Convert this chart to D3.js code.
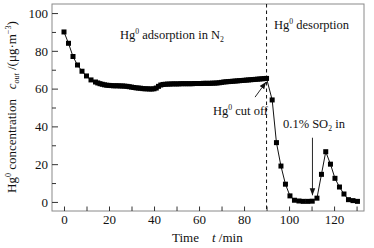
<!DOCTYPE html>
<html>
<head>
<meta charset="utf-8">
<script src="https://cdn.jsdelivr.net/npm/d3@7"></script>
<style>
  body { margin: 0; background: #fff; }
  svg text { font-family: "Liberation Serif", "Times New Roman", serif; fill: #111; }
</style>
</head>
<body>
<div id="chart"><svg></svg></div>
<script>
// data
var adsTime = [0, 2, 4, 6, 8, 10, 12, 14,
  15, 16, 17, 18, 19, 20, 21, 22, 23, 24, 25, 26, 27, 28, 29, 30, 31, 32, 33, 34, 35, 36, 37, 38, 39, 40,
  41, 42, 43, 44, 45, 46, 47, 48, 49, 50, 51, 52, 53, 54, 55, 56, 57, 58, 59, 60, 61, 62, 63, 64, 65,
  66, 67, 68, 69, 70, 71, 72, 73, 74, 75, 76, 77, 78, 79, 80, 81, 82, 83, 84, 85, 86, 87, 88, 89, 90]
var adsConc = [90, 84, 77, 72.5, 69.2, 66.7, 64.6, 63.5,
  63.0, 62.6, 62.3, 62.0, 61.8, 61.7, 61.6, 61.5, 61.5, 61.5, 61.4, 61.4, 61.3, 61.2, 61.0, 60.8, 60.6, 60.4, 60.3, 60.2, 60.0, 59.9, 59.9, 59.8, 59.8, 59.9,
  60.3, 61.2, 61.9, 62.2, 62.3, 62.4, 62.4, 62.5, 62.5, 62.5, 62.5, 62.6, 62.6, 62.6, 62.6, 62.6, 62.6, 62.7, 62.7, 62.7, 62.7, 62.8, 62.8, 62.8, 62.8,
  62.9, 62.9, 63.0, 63.1, 63.3, 63.5, 63.6, 63.7, 63.8, 63.9, 64.0, 64.1, 64.2, 64.3, 64.4, 64.5, 64.6, 64.7, 64.8, 64.9, 65.0, 65.1, 65.2, 65.3, 65.4]
var desTime = [92.5, 94.4, 96.4, 98.4, 100.4, 102.4, 104.4, 106.3, 108.3, 110.3, 112.4, 114.4, 116.3, 118.4, 120.4, 122.4, 124.4, 126.4, 128.4, 130.4]
var desConc = [54, 31.4, 19, 9.4, 3.2, 0.9, 0.5, 0.3, 0.3, 0.4, 2, 14.6, 26.6, 20, 12.5, 7.9, 4.2, 1.2, 0.7, 0.3]

var xTicks = [0, 10, 20, 30, 40, 50, 60, 70, 80, 90, 100, 110, 120, 130]
var yMajor = [0, 20, 40, 60, 80, 100]
var yMinor = [10, 30, 50, 70, 90]
var cutTime = 90
var so2Time = 110.4

var width = 374, height = 248
var plotL = 52, plotR = 364, plotT = 4, plotB = 211

var svg = d3.select("#chart svg").attr("width", width).attr("height", height)

var x = d3.scaleLinear().domain([-5.33, 133.3]).range([plotL, plotR])
var y = d3.scaleLinear().domain([-4.8, 104.8]).range([plotB, plotT])

var points = adsTime.map((t, i) => [t, adsConc[i]])
  .concat(desTime.map((t, i) => [t, desConc[i]]))

// frame
svg.append("rect")
  .attr("x", plotL).attr("y", plotT)
  .attr("width", plotR - plotL).attr("height", plotB - plotT)
  .attr("fill", "none").attr("stroke", "#8a8a8a").attr("stroke-width", 1)

// axes
var xAxis = svg.append("g")
  .attr("transform", `translate(0,${plotB})`)
  .call(d3.axisBottom(x).tickValues(xTicks).tickSize(-4.5).tickPadding(4)
    .tickFormat(d => d % 20 === 0 ? d : ""))
var yAxis = svg.append("g")
  .attr("transform", `translate(${plotL},0)`)
  .call(d3.axisLeft(y).tickValues(yMajor).tickSize(-6).tickPadding(4))
var yAxisMinor = svg.append("g")
  .attr("transform", `translate(${plotL},0)`)
  .call(d3.axisLeft(y).tickValues(yMinor).tickSize(-4).tickFormat(""))

;[xAxis, yAxis, yAxisMinor].forEach(g => {
  g.select(".domain").remove()
  g.selectAll(".tick line").attr("stroke", "#333")
  g.selectAll("text").style("font-size", "13px").attr("fill", "#111")
})

// dashed line at gas cut off
svg.append("line")
  .attr("x1", x(cutTime)).attr("x2", x(cutTime))
  .attr("y1", plotT).attr("y2", plotB)
  .attr("stroke", "#111").attr("stroke-width", 1)
  .attr("stroke-dasharray", "3.5,3")

// data line and markers
svg.append("path")
  .datum(points)
  .attr("fill", "none").attr("stroke", "#111").attr("stroke-width", 1)
  .attr("d", d3.line().x(d => x(d[0])).y(d => y(d[1])))

svg.selectAll("rect.pt")
  .data(points)
  .join("rect")
  .attr("class", "pt")
  .attr("x", d => x(d[0]) - 2.5).attr("y", d => y(d[1]) - 2.5)
  .attr("width", 5).attr("height", 5)
  .attr("fill", "#000")

// arrows
svg.append("defs").append("marker")
  .attr("id", "arrow").attr("viewBox", "0 0 10 10")
  .attr("refX", 10).attr("refY", 5)
  .attr("markerWidth", 7).attr("markerHeight", 7)
  .attr("markerUnits", "userSpaceOnUse")
  .attr("orient", "auto")
  .append("path").attr("d", "M0,1 L10,5 L0,9 Z").attr("fill", "#111")

svg.append("line")
  .attr("x1", x(cutTime) - 11.5).attr("y1", y(55.5))
  .attr("x2", x(cutTime) - 0.5).attr("y2", y(63.5))
  .attr("stroke", "#111").attr("stroke-width", 0.9)
  .attr("marker-end", "url(#arrow)")

svg.append("line")
  .attr("x1", x(so2Time)).attr("y1", y(34))
  .attr("x2", x(so2Time)).attr("y2", y(3.5))
  .attr("stroke", "#111").attr("stroke-width", 0.9)
  .attr("marker-end", "url(#arrow)")

// text helper for super/sub scripts
function label(px, py, parts, size) {
  var t = svg.append("text").attr("x", px).attr("y", py).style("font-size", size + "px")
  parts.forEach(p => {
    var s = t.append("tspan").text(p.t)
    if (p.sup) s.attr("dy", -size * 0.38).style("font-size", (size * 0.62) + "px")
    if (p.sub) s.attr("dy", size * 0.25).style("font-size", (size * 0.62) + "px")
    if (p.back) s.attr("dy", p.back)
    if (p.it) s.style("font-style", "italic")
  })
  return t
}

label(120, 39, [{t: "Hg"}, {t: "0", sup: true}, {t: " adsorption in N", back: 12.5 * 0.38}, {t: "2", sub: true}], 12.5)
label(274, 29, [{t: "Hg"}, {t: "0", sup: true}, {t: " desorption", back: 12.5 * 0.38}], 12.5)
label(213, 115, [{t: "Hg"}, {t: "0", sup: true}, {t: " cut off", back: 12.5 * 0.38}], 12.5)
label(283, 128, [{t: "0.1% SO"}, {t: "2", sub: true}, {t: " in", back: -12.5 * 0.25}], 12.5)

// axis titles
label(172, 242, [{t: "Time"}, {t: "    "}, {t: "t", it: true}, {t: " /min"}], 13)
  .style("white-space", "pre")

var yt = label(0, 0, [{t: "Hg"}, {t: "0", sup: true}, {t: " concentration   ", back: 13 * 0.38},
  {t: "c", it: true}, {t: "out", sub: true, it: true}, {t: " /(μg·m", back: -13 * 0.25}, {t: "−3", sup: true}, {t: ")", back: 13 * 0.38}], 13)
yt.attr("transform", "translate(16,193) rotate(-90)").style("white-space", "pre")
</script>
</body>
</html>
